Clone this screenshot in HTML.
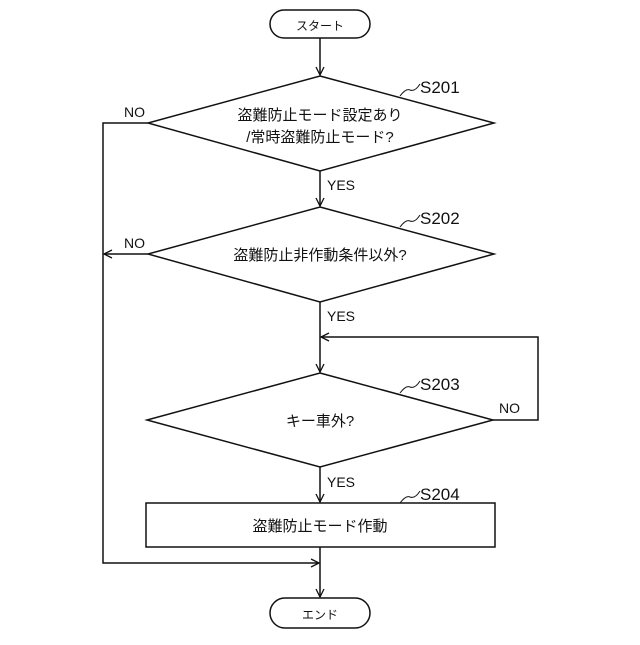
<!DOCTYPE html>
<html><head><meta charset="utf-8"><style>
html,body{margin:0;padding:0;background:#fff}
svg text{font-family:"Liberation Sans","Noto Sans CJK JP",sans-serif;fill:#111}
</style></head><body>
<svg width="640" height="640" viewBox="0 0 640 640" xmlns="http://www.w3.org/2000/svg">
<defs><marker id="a" markerWidth="10" markerHeight="10" refX="9" refY="5" orient="auto" markerUnits="userSpaceOnUse"><path d="M1,1 L9,5 L1,9" fill="none" stroke="#111" stroke-width="1.3"/></marker></defs>
<g fill="none" stroke="#111" stroke-width="1.5">
<rect x="270" y="10" width="100" height="28" rx="14"/>
<line x1="320" y1="38" x2="320" y2="75" marker-end="url(#a)"/>
<polygon points="320,76 494,123 320,171 148,123"/>
<line x1="320" y1="171" x2="320" y2="206" marker-end="url(#a)"/>
<polygon points="320,207 494,254 320,302 148,254"/>
<line x1="320" y1="302" x2="320" y2="372" marker-end="url(#a)"/>
<polygon points="320,373 493,420 320,467 147,420"/>
<polyline points="493,420 538,420 538,337 321,337" marker-end="url(#a)"/>
<line x1="320" y1="467" x2="320" y2="502" marker-end="url(#a)"/>
<rect x="146" y="503" width="349" height="44"/>
<line x1="320" y1="547" x2="320" y2="597" marker-end="url(#a)"/>
<polyline points="148,123 103,123 103,563 319,563" marker-end="url(#a)"/>
<line x1="148" y1="254" x2="104" y2="254" marker-end="url(#a)"/>
<rect x="270" y="598" width="100" height="30" rx="15"/>
<path d="M400,96 q6,-8 10,-6 q5,2 10,-6" stroke-width="1"/>
<path d="M400,227 q6,-8 10,-6 q5,2 10,-6" stroke-width="1"/>
<path d="M400,393 q6,-8 10,-6 q5,2 10,-6" stroke-width="1"/>
<path d="M400,503 q6,-8 10,-6 q5,2 10,-6" stroke-width="1"/>
</g>
<g font-size="15">
<text x="320" y="30" text-anchor="middle" font-size="12">スタート</text>
<text x="320" y="619" text-anchor="middle" font-size="12">エンド</text>
<text x="320" y="120" text-anchor="middle">盗難防止モード設定あり</text>
<text x="320" y="142" text-anchor="middle">/常時盗難防止モード?</text>
<text x="320" y="260" text-anchor="middle">盗難防止非作動条件以外?</text>
<text x="320" y="426" text-anchor="middle">キー車外?</text>
<text x="320" y="531" text-anchor="middle">盗難防止モード作動</text>
<text x="420" y="93" font-size="17">S201</text>
<text x="420" y="224" font-size="17">S202</text>
<text x="420" y="390" font-size="17">S203</text>
<text x="420" y="500" font-size="17">S204</text>
<text x="124" y="117" font-size="14">NO</text>
<text x="124" y="248" font-size="14">NO</text>
<text x="499" y="413" font-size="14">NO</text>
<text x="327" y="190" font-size="14">YES</text>
<text x="327" y="321" font-size="14">YES</text>
<text x="327" y="487" font-size="14">YES</text>
</g>
</svg>
</body></html>
